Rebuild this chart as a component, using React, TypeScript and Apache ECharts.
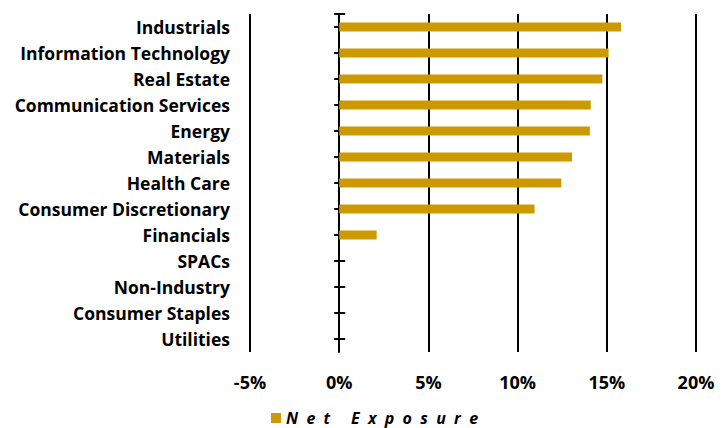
import React, { useEffect, useRef } from "react";
import * as echarts from "echarts";

const categories = [
  "Industrials",
  "Information Technology",
  "Real Estate",
  "Communication Services",
  "Energy",
  "Materials",
  "Health Care",
  "Consumer Discretionary",
  "Financials",
  "SPACs",
  "Non-Industry",
  "Consumer Staples",
  "Utilities",
];
const netExposure = [15.8, 15.1, 14.75, 14.1, 14.05, 13.05, 12.45, 10.95, 2.1, 0, 0, 0, 0];
const seriesName = "Net Exposure";
const xMin = -5;
const xMax = 20;
const xInterval = 5;

export default function App() {
  const ref = useRef<HTMLDivElement>(null);
  useEffect(() => {
    const chart = echarts.init(ref.current!, null, { renderer: "svg" });
    const font = "'Open Sans', 'Noto Sans', sans-serif";
    const tickStyle = { color: "#000", width: 2 };
    const zeroAxis = (extra: any) => ({
      type: "category",
      data: categories,
      inverse: true,
      position: "left",
      axisLabel: { show: false },
      splitLine: { show: false },
      ...extra,
    });
    const capAxis = (inside: boolean) => ({
      type: "value",
      min: 0,
      max: 1,
      position: "left",
      axisLine: { show: false, onZero: true, onZeroAxisIndex: 0 },
      axisLabel: { show: false },
      splitLine: { show: false },
      axisTick: { show: true, inside, customValues: [1], length: inside ? 6 : 5, lineStyle: tickStyle },
    });
    chart.setOption({
      animation: false,
      grid: { left: 250, right: 25, top: 14, bottom: 76, containLabel: false },
      legend: {
        top: 405,
        left: 266,
        itemWidth: 10,
        itemHeight: 10,
        itemGap: 9,
        icon: "rect",
        data: [seriesName],
        formatter: (n: string) => n.split("").join("  "),
        textStyle: {
          fontFamily: font,
          fontWeight: "bold",
          fontStyle: "italic",
          fontSize: 16,
          color: "#000",
        },
      },
      xAxis: {
        type: "value",
        min: xMin,
        max: xMax,
        interval: xInterval,
        axisLine: { show: false },
        axisTick: { show: false },
        axisLabel: {
          formatter: (v: number) => `${v}%`,
          fontFamily: font,
          fontWeight: "bold",
          fontSize: 18,
          color: "#000",
          margin: 21,
        },
        splitLine: { show: true, lineStyle: { color: "#000", width: 2 } },
      },
      yAxis: [
        {
          type: "category",
          data: categories,
          inverse: true,
          position: "left",
          axisLine: { show: false, onZero: false },
          axisTick: { show: false },
          axisLabel: {
            fontFamily: font,
            fontWeight: "bold",
            fontSize: 17.5,
            color: "#000",
            margin: 20,
          },
        },
        zeroAxis({
          axisLine: { show: true, onZero: true, onZeroAxisIndex: 0, lineStyle: { color: "#000", width: 2 } },
          axisTick: { show: true, alignWithLabel: true, length: 5, lineStyle: tickStyle },
        }),
        zeroAxis({
          axisLine: { show: false, onZero: true, onZeroAxisIndex: 0 },
          axisTick: { show: true, inside: true, alignWithLabel: true, length: 6, lineStyle: tickStyle },
        }),
        capAxis(false),
        capAxis(true),
      ],
      series: [
        {
          name: seriesName,
          type: "bar",
          data: netExposure,
          barWidth: 9,
          itemStyle: { color: "#CC9A00" },
          z: 1,
        },
      ],
    });
    return () => chart.dispose();
  }, []);
  return <div ref={ref} style={{ width: 721, height: 428, position: "absolute", left: 0, top: 0 }} />;
}
